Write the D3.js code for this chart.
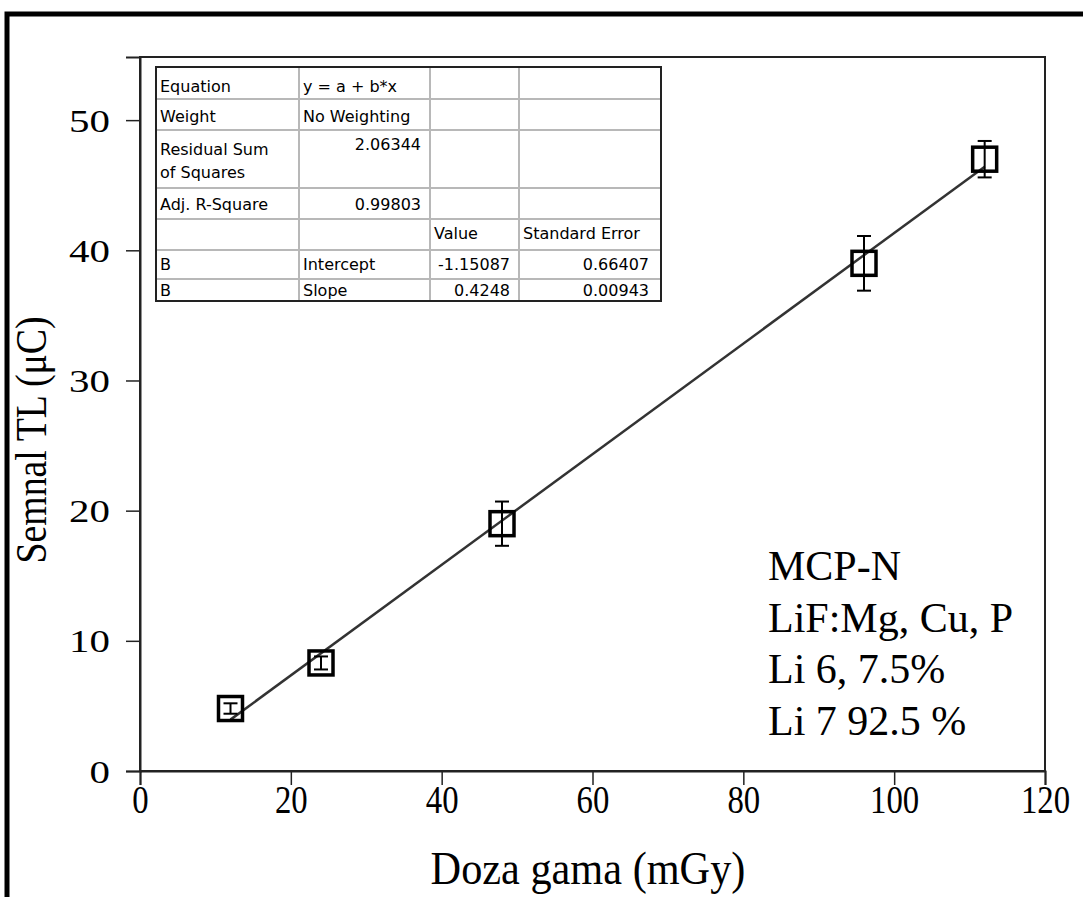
<!DOCTYPE html>
<html>
<head>
<meta charset="utf-8">
<script src="https://cdn.jsdelivr.net/npm/d3@7"></script>
<style>
  body { margin: 0; background: #fff; }
  svg { display: block; }
</style>
</head>
<body>
<div id="chart"></div>
<script>
// dose (mGy), TL signal (uC) and error bars
var doses = [12, 24, 48, 96, 112];
var signal = [4.8, 8.3, 19, 39, 47];
var errors = [0.4, 0.5, 1.7, 2.1, 1.4];
var xTicks = [0, 20, 40, 60, 80, 100, 120];
var yTicks = [0, 10, 20, 30, 40, 50];
var fitA = -1.15087, fitB = 0.4248;
var notes = ["MCP-N", "LiF:Mg, Cu, P", "Li 6, 7.5%", "Li 7 92.5 %"];

// fit table rows: [col1, col2, col3, col4]
var tableRows = [
  ["Equation", "y = a + b*x", "", ""],
  ["Weight", "No Weighting", "", ""],
  ["Residual Sum|of Squares", "2.06344", "", ""],
  ["Adj. R-Square", "0.99803", "", ""],
  ["", "", "Value", "Standard Error"],
  ["B", "Intercept", "-1.15087", "0.66407"],
  ["B", "Slope", "0.4248", "0.00943"]
];

var W = 1083, H = 897;
var serif = "Liberation Serif, Times New Roman, serif";
var svg = d3.select("#chart").append("svg")
  .attr("width", W)
  .attr("height", H);

// outer thick frame
svg.append("rect")
  .attr("x", 7).attr("y", 14)
  .attr("width", W + 20).attr("height", H + 20)
  .attr("fill", "none")
  .attr("stroke", "#000")
  .attr("stroke-width", 5);

var x = d3.scaleLinear().domain([0, 120]).range([140, 1045]);
var y = d3.scaleLinear().domain([0, 54.85]).range([771, 57]);

// plot frame
svg.append("rect")
  .attr("x", x(0)).attr("y", y(54.85))
  .attr("width", x(120) - x(0))
  .attr("height", y(0) - y(54.85))
  .attr("fill", "none")
  .attr("stroke", "#222")
  .attr("stroke-width", 2);

// x axis (labels drawn tall and narrow like the original)
var xAxis = svg.append("g")
  .attr("transform", "translate(0," + y(0) + ")")
  .call(d3.axisBottom(x).tickValues(xTicks).tickSize(14).tickFormat(d3.format("d")));
xAxis.select(".domain").attr("stroke", "#222").attr("stroke-width", 2);
xAxis.selectAll(".tick line").attr("stroke", "#222").attr("stroke-width", 1.5);
xAxis.selectAll(".tick text")
  .attr("font-family", serif)
  .attr("font-size", "40px")
  .attr("fill", "#000")
  .attr("x", 0).attr("y", 0).attr("dy", null)
  .attr("transform", "translate(0,42) scale(0.82,1)");

// y axis (labels wide)
var yAxis = svg.append("g")
  .attr("transform", "translate(" + x(0) + ",0)")
  .call(d3.axisLeft(y).tickValues(yTicks).tickSize(14));
yAxis.select(".domain").attr("stroke", "#222").attr("stroke-width", 2);
yAxis.selectAll(".tick line").attr("stroke", "#222").attr("stroke-width", 1.5);
yAxis.selectAll(".tick text")
  .attr("font-family", serif)
  .attr("font-size", "32px")
  .attr("fill", "#000")
  .attr("x", 0).attr("dy", null).attr("y", 0)
  .attr("transform", "translate(-30,11) scale(1.28,1)");

// axis titles
svg.append("text")
  .attr("transform", "translate(588,884) scale(0.92,1)")
  .attr("text-anchor", "middle")
  .attr("font-family", serif)
  .attr("font-size", "46px")
  .attr("fill", "#000")
  .text("Doza gama (mGy)");

svg.append("text")
  .attr("transform", "translate(46,440) rotate(-90) scale(0.86,1)")
  .attr("text-anchor", "middle")
  .attr("font-family", serif)
  .attr("font-size", "44px")
  .attr("fill", "#000")
  .text("Semnal TL (\u03bcC)");

// linear fit line
svg.append("line")
  .attr("x1", x(doses[0])).attr("y1", y(fitA + fitB * doses[0]))
  .attr("x2", x(doses[doses.length - 1])).attr("y2", y(fitA + fitB * doses[doses.length - 1]))
  .attr("stroke", "#333")
  .attr("stroke-width", 2.5);

var pts = doses.map(function(d, i) { return {x: d, y: signal[i], e: errors[i]}; });

// error bars
var eb = svg.selectAll("g.err").data(pts).enter().append("g").attr("class", "err")
  .attr("stroke", "#000").attr("stroke-width", 2);
eb.append("line")
  .attr("x1", function(d) { return x(d.x); }).attr("x2", function(d) { return x(d.x); })
  .attr("y1", function(d) { return y(d.y + d.e); }).attr("y2", function(d) { return y(d.y - d.e); });
eb.append("line")
  .attr("x1", function(d) { return x(d.x) - 7; }).attr("x2", function(d) { return x(d.x) + 7; })
  .attr("y1", function(d) { return y(d.y + d.e); }).attr("y2", function(d) { return y(d.y + d.e); });
eb.append("line")
  .attr("x1", function(d) { return x(d.x) - 7; }).attr("x2", function(d) { return x(d.x) + 7; })
  .attr("y1", function(d) { return y(d.y - d.e); }).attr("y2", function(d) { return y(d.y - d.e); });

// square markers
svg.selectAll("rect.pt").data(pts).enter().append("rect").attr("class", "pt")
  .attr("x", function(d) { return x(d.x) - 12; })
  .attr("y", function(d) { return y(d.y) - 12; })
  .attr("width", 24).attr("height", 24)
  .attr("fill", "none")
  .attr("stroke", "#000")
  .attr("stroke-width", 3.5);

// annotation text
svg.selectAll("text.note").data(notes).enter().append("text").attr("class", "note")
  .attr("x", 768)
  .attr("y", function(d, i) { return 580 + i * 51.5; })
  .attr("font-family", serif)
  .attr("font-size", "42px")
  .attr("fill", "#000")
  .text(function(d) { return d; });

// fit results table
var colX = [156, 299, 430, 519, 661];
var rowY = [67, 99, 130, 188, 219, 250, 279, 301];
var rowBase = [25, 23, 25, 22, 20, 20, 17];
var tbl = svg.append("g")
  .attr("font-family", "DejaVu Sans, Verdana, sans-serif")
  .attr("font-size", "16px")
  .attr("fill", "#000");

tbl.append("rect")
  .attr("x", colX[0]).attr("y", rowY[0])
  .attr("width", colX[4] - colX[0]).attr("height", rowY[7] - rowY[0])
  .attr("fill", "#fff");

rowY.slice(1, 7).forEach(function(r) {
  tbl.append("line").attr("x1", colX[0]).attr("x2", colX[4]).attr("y1", r).attr("y2", r)
    .attr("stroke", "#b8b8b8").attr("stroke-width", 2);
});
colX.slice(1, 4).forEach(function(c) {
  tbl.append("line").attr("x1", c).attr("x2", c).attr("y1", rowY[0]).attr("y2", rowY[7])
    .attr("stroke", "#b8b8b8").attr("stroke-width", 2);
});
tbl.append("rect")
  .attr("x", colX[0]).attr("y", rowY[0])
  .attr("width", colX[4] - colX[0]).attr("height", rowY[7] - rowY[0])
  .attr("fill", "none")
  .attr("stroke", "#222")
  .attr("stroke-width", 2);

// numeric cells are right aligned, labels left aligned
var isNum = function(s) { return /^-?[0-9.]+$/.test(s); };
tableRows.forEach(function(row, ri) {
  row.forEach(function(cell, ci) {
    if (!cell) return;
    var lines = cell.split("|");
    var num = isNum(cell);
    lines.forEach(function(ln, li) {
      var base = num && ri === 2 ? 20 : rowBase[ri];
      tbl.append("text")
        .attr("x", num ? colX[ci + 1] - (ci === 3 ? 12 : 9) : colX[ci] + 4)
        .attr("y", rowY[ri] + base + li * 23)
        .attr("text-anchor", num ? "end" : "start")
        .text(ln);
    });
  });
});
</script>
</body>
</html>
